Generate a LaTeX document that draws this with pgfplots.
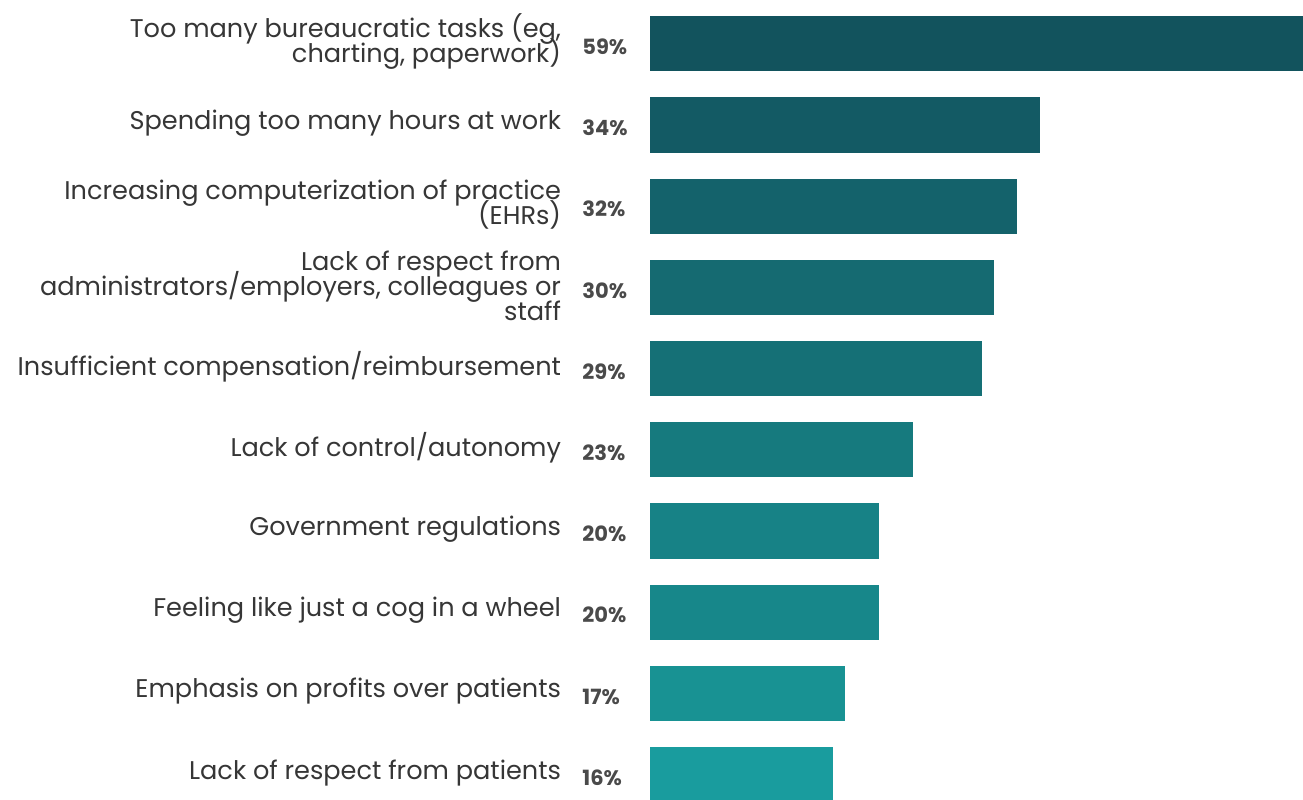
\documentclass[border=0pt]{standalone}
\usepackage{fontspec}
\setmainfont{Poppins}
\usepackage{pgfplots}
\pgfplotsset{compat=1.18}
\newcommand\lblfont{\fontsize{12.8}{12.5}\selectfont\lineskiplimit=-20pt\relax\lineskip=0pt\relax}
\definecolor{txt}{HTML}{363636}
\definecolor{c0}{HTML}{12535D}
\definecolor{c1}{HTML}{135A64}
\definecolor{c2}{HTML}{14626B}
\definecolor{c3}{HTML}{156A71}
\definecolor{c4}{HTML}{157076}
\definecolor{c5}{HTML}{167A7E}
\definecolor{c6}{HTML}{178286}
\definecolor{c7}{HTML}{17878A}
\definecolor{c8}{HTML}{189293}
\definecolor{c9}{HTML}{199C9E}
\begin{document}
\begin{tikzpicture}
\begin{axis}[
  at={(325pt,0pt)}, anchor=south west,
  width=326.5pt, height=399.5pt, scale only axis,
  xmin=0, xmax=57.0, ymin=-0.54, ymax=9.30, y dir=reverse,
  xbar, bar width=0.68, bar shift=0pt,
  clip=false,
  axis line style={draw=none}, tick style={draw=none},
  xtick=\empty,
  ytick={0,...,9},
  yticklabels={
    {Too many bureaucratic tasks (eg,\\charting, paperwork)},
    {Spending too many hours at work},
    {Increasing computerization of practice\\(EHRs)},
    {Lack of respect from\\administrators/employers, colleagues or\\staff},
    {Insufficient compensation/reimbursement},
    {Lack of control/autonomy},
    {Government regulations},
    {Feeling like just a cog in a wheel},
    {Emphasis on profits over patients},
    {Lack of respect from patients}},
  yticklabel style={align=right, anchor=east, inner sep=0pt, xshift=-40pt, yshift=1pt,
    font=\lblfont, text=txt},
]
\addplot[fill=c0, draw=none] coordinates {(59,0)};
\addplot[fill=c1, draw=none] coordinates {(34,1)};
\addplot[fill=c2, draw=none] coordinates {(32,2)};
\addplot[fill=c3, draw=none] coordinates {(30,3)};
\addplot[fill=c4, draw=none] coordinates {(29,4)};
\addplot[fill=c5, draw=none] coordinates {(23,5)};
\addplot[fill=c6, draw=none] coordinates {(20,6)};
\addplot[fill=c7, draw=none] coordinates {(20,7)};
\addplot[fill=c8, draw=none] coordinates {(17,8)};
\addplot[fill=c9, draw=none] coordinates {(16,9)};
\tikzset{pct/.style={anchor=west, inner sep=0pt, xshift=-34pt, yshift=-1.5pt, text=txt!90,
  font=\fontsize{10.5}{10.5}\selectfont\bfseries}}
\node[pct] at (axis cs:0,0) {59\%};
\node[pct] at (axis cs:0,1) {34\%};
\node[pct] at (axis cs:0,2) {32\%};
\node[pct] at (axis cs:0,3) {30\%};
\node[pct] at (axis cs:0,4) {29\%};
\node[pct] at (axis cs:0,5) {23\%};
\node[pct] at (axis cs:0,6) {20\%};
\node[pct] at (axis cs:0,7) {20\%};
\node[pct] at (axis cs:0,8) {17\%};
\node[pct] at (axis cs:0,9) {16\%};
\end{axis}
\pgfresetboundingbox
\useasboundingbox (0,0) rectangle (651.5pt,399.5pt);
\end{tikzpicture}
\end{document}
